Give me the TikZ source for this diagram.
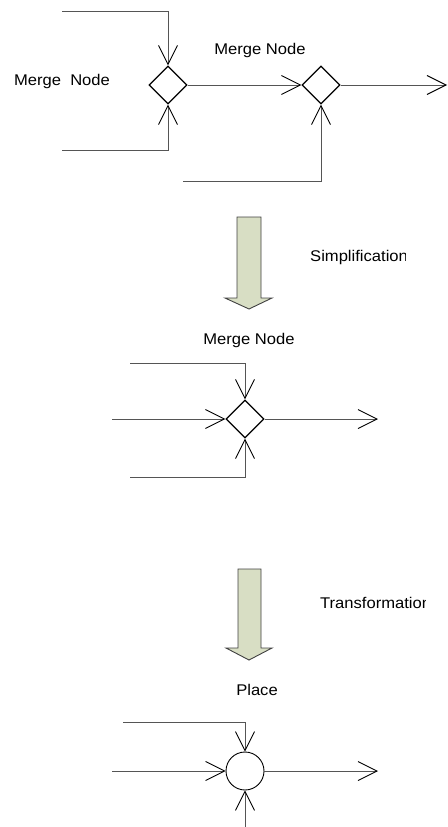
\documentclass[tikz,border=0pt]{standalone}
\usepackage{fontspec}
\setmainfont{Liberation Sans}[FakeStretch=1.07]
\usetikzlibrary{arrows.meta,shapes.geometric}

\definecolor{arrowfill}{RGB}{216,222,196}
\definecolor{linegray}{RGB}{85,85,85}

\tikzset{
  merge/.style={draw,diamond,minimum size=38pt,inner sep=0pt,line width=1.2pt},
  placenode/.style={draw,circle,minimum size=38pt,inner sep=0pt,line width=0.9pt},
  flow/.style={draw=linegray,line width=0.9pt,
    -{Straight Barb[length=19pt,width=19pt,line width=0.9pt,color=black]}},
  txt/.style={font=\fontsize{15.5}{18}\selectfont,inner sep=0pt},
  blockarrow/.style={draw=black!75,fill=arrowfill,line width=0.9pt},
}

\begin{document}
\begin{tikzpicture}[x=1pt,y=-1pt]
\useasboundingbox (0,0) rectangle (447,827);

% first net: two merge nodes
\node[merge] (d1) at (168,85) {};
\node[merge] (d2) at (321,85) {};
\node[txt] (ml1) at (62,81) {Merge\ \ Node};
\node[txt] (ml2) at (260,50) {Merge Node};
\coordinate (a1) at (62,11);
\coordinate (a2) at (62,150);
\coordinate (a3) at (183,181);
\coordinate (a4) at (447,85);
\draw[flow] (a1) -| (d1.north);
\draw[flow] (a2) -| (d1.south);
\draw[flow] (d1.east) -- (d2.west);
\draw[flow] (a3) -| (d2.south);
\draw[flow] (d2.east) -- (a4);

% simplification step
\draw[blockarrow] (237,217) -- (261,217) -- (261,298) -- (272,298) -- (249,309)
  -- (225,298) -- (237,298) -- cycle;
\begin{scope}
  \clip (300,240) rectangle (405.5,275);
  \node[txt,anchor=west] (simp) at (310,257) {Simplification};
\end{scope}

% second net: one merge node
\node[merge] (m) at (245,419) {};
\node[txt] (ml3) at (249,340) {Merge Node};
\coordinate (b1) at (130,363);
\coordinate (b2) at (112,419);
\coordinate (b3) at (130,477);
\coordinate (b4) at (378,419);
\draw[flow] (b1) -| (m.north);
\draw[flow] (b2) -- (m.west);
\draw[flow] (b3) -| (m.south);
\draw[flow] (m.east) -- (b4);

% transformation step
\draw[blockarrow] (238,569) -- (261,569) -- (261,648) -- (272,648) -- (249,660)
  -- (226,648) -- (238,648) -- cycle;
\begin{scope}
  \clip (310,585) rectangle (425,620);
  \node[txt,anchor=west] (trans) at (320,603) {Transformation};
\end{scope}

% third net: place
\node[placenode] (p) at (245,771) {};
\node[txt] (pl) at (257,690) {Place};
\coordinate (c1) at (123,722);
\coordinate (c2) at (112,771);
\coordinate (c3) at (245,827);
\coordinate (c4) at (378,771);
\draw[flow] (c1) -| (p.north);
\draw[flow] (c2) -- (p.west);
\draw[flow] (c3) -- (p.south);
\draw[flow] (p.east) -- (c4);
\end{tikzpicture}
\end{document}
